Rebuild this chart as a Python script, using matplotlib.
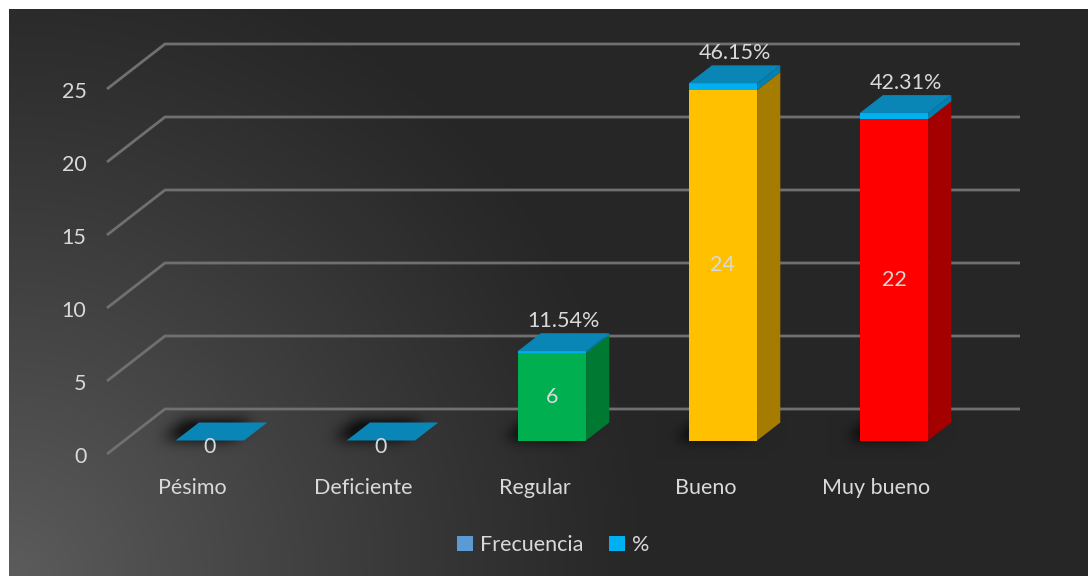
import numpy as np
import matplotlib.pyplot as plt
from matplotlib.patches import Polygon, Patch
from matplotlib.path import Path

categorias = ['Pésimo', 'Deficiente', 'Regular', 'Bueno', 'Muy bueno']
frecuencia = [0, 0, 6, 24, 22]
porcentaje = [0.0, 0.0, 11.54, 46.15, 42.31]
y_ticks = [0, 5, 10, 15, 20, 25]

# colores por punto (cara frontal / cara lateral)
col_frente = ['#00b050', '#00b050', '#00b050', '#ffc000', '#ff0000']
col_lado = ['#007a33', '#007a33', '#007a33', '#a67c00', '#a50000']
pct_frente, pct_lado, pct_tapa = '#00b0f0', '#0081b1', '#0a86b6'
txt = '#d9d9d9'

plt.rcParams['font.family'] = ['Lato', 'DejaVu Sans']
FS = 15.5

W, H = 1088, 576
# escala: 171 px por categoria, 14.6 px por unidad
SX, SY = 171.0, 14.6
X0, Y0 = 107.0, 454.0
DU, DV = 58.0 / SX, 45.0 / SY   # desplazamiento de profundidad


def proj(u, v, d):
    return u + d * DU, v + d * DV


def to_px(u, v):
    return X0 + SX * u, Y0 - SY * v


fig = plt.figure(figsize=(W / 100, H / 100), dpi=100)
fig.patch.set_facecolor('white')

# fondo con degradado radial desde la esquina inferior izquierda
yy, xx = np.mgrid[0:H, 0:W]
r = np.hypot(xx - 9, yy - 576)
g = 0x26 + (0x5c - 0x26) * np.clip(1 - r / 650.0, 0, 1) ** 1.15

# sombras difusas bajo las barras
sombra = np.zeros((H, W))
pts = np.column_stack([xx.ravel(), yy.ravel()])
for i in range(len(categorias)):
    u0, u1 = i + 0.3, i + 0.7
    quad = [to_px(*proj(u, 0, d)) for u, d in
            [(u0, 0.3), (u1, 0.3), (u1, 0.7), (u0, 0.7)]]
    quad = [(x - 14, y - 2) for x, y in quad]
    m = Path(quad).contains_points(pts).reshape(H, W)
    sombra = np.maximum(sombra, m.astype(float))
k = np.exp(-0.5 * (np.arange(-20, 21) / 7.0) ** 2)
k /= k.sum()
sombra = np.apply_along_axis(lambda a: np.convolve(a, k, mode='same'), 1, sombra)
sombra = np.apply_along_axis(lambda a: np.convolve(a, k, mode='same'), 0, sombra)
g = g * (1 - 0.7 * np.clip(sombra * 1.5, 0, 1))

img = np.dstack([g, g, g]) / 255.0
img[:9, :, :] = 1.0
img[:, :9, :] = 1.0

bg = fig.add_axes([0, 0, 1, 1])
bg.imshow(img, extent=(0, W, H, 0), aspect='auto', interpolation='bilinear')
bg.axis('off')

ax = fig.add_axes([0, 0, 1, 1])
ax.patch.set_alpha(0)
ax.set_xlim(-X0 / SX, (W - X0) / SX)
ax.set_ylim((Y0 - H) / SY, Y0 / SY)
ax.axis('off')

n = len(categorias)
# lineas de division: pared lateral y pared del fondo
for t in y_ticks:
    xa, ya = proj(0, t, 0)
    xb, yb = proj(0, t, 1)
    xc, yc = proj(n, t, 1)
    ax.plot([xa, xb, xc], [ya, yb, yc], color='#707070', lw=2.0,
            solid_capstyle='butt', zorder=1)
    ax.text(xa - 0.12, ya - 0.2, str(t), ha='right', va='center',
            color=txt, fontsize=FS)


def prisma(u0, u1, v0, v1, frente, lado, tapa, z):
    d0, d1 = 0.3, 0.7
    f = [proj(u0, v0, d0), proj(u1, v0, d0), proj(u1, v1, d0), proj(u0, v1, d0)]
    s = [proj(u1, v0, d0), proj(u1, v0, d1), proj(u1, v1, d1), proj(u1, v1, d0)]
    t = [proj(u0, v1, d0), proj(u1, v1, d0), proj(u1, v1, d1), proj(u0, v1, d1)]
    if v1 > v0:
        ax.add_patch(Polygon(s, closed=True, fc=lado, ec='none', zorder=z))
        ax.add_patch(Polygon(f, closed=True, fc=frente, ec='none', zorder=z))
    if tapa is not None:
        ax.add_patch(Polygon(t, closed=True, fc=tapa, ec='none', zorder=z))


for i, (cat, fr, pc) in enumerate(zip(categorias, frecuencia, porcentaje)):
    u0, u1 = i + 0.3, i + 0.7
    z = 3 + i
    prisma(u0, u1, 0, fr, col_frente[i], col_lado[i], None, z)
    prisma(u0, u1, fr, fr + pc / 100, pct_frente, pct_lado, pct_tapa, z)

    # etiqueta de frecuencia en la cara frontal
    lx, ly = proj(i + 0.5, fr / 2, 0.3)
    if fr == 0:
        ly -= 0.45
    ax.text(lx, ly, str(fr), ha='center', va='center', color=txt,
            fontsize=FS, zorder=20)

    # etiqueta de porcentaje sobre la barra
    if pc > 0:
        px, _ = proj(i + 0.5, 0, 0.5)
        _, py = proj(0, fr + pc / 100, 0.7)
        ax.annotate(f'{pc:.2f}%', (px, py), xytext=(0, 9),
                    textcoords='offset points', ha='center', va='center',
                    color=txt, fontsize=FS, zorder=20)

    cx, cy = proj(i + 0.5, 0, 0)
    ax.text(cx, cy - 2.3, cat, ha='center', va='center', color=txt, fontsize=FS)

handles = [Patch(fc='#5b9bd5', ec='none'), Patch(fc=pct_frente, ec='none')]
fig.legend(handles, ['Frecuencia', '%'], loc='center',
           bbox_to_anchor=(553 / W, 1 - 545 / H), ncol=2, frameon=False,
           fontsize=FS, labelcolor=txt, handlelength=0.75, handleheight=0.75,
           handletextpad=0.3, columnspacing=1.2)

fig.savefig('out.png', dpi=100)
